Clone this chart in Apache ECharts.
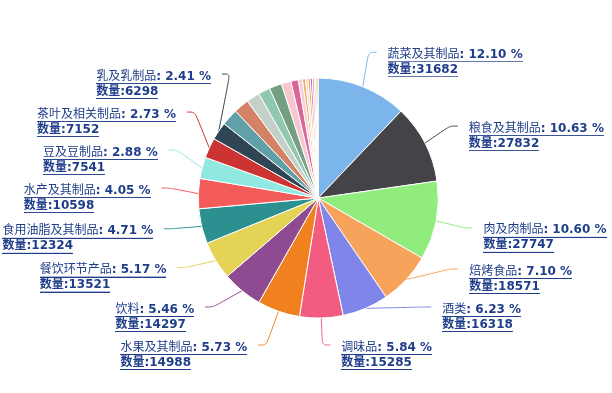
<!DOCTYPE html>
<html>
<head>
<meta charset="utf-8">
<script src="https://cdn.jsdelivr.net/npm/echarts@6/dist/echarts.min.js"></script>
<style>html,body{margin:0;padding:0;background:#fff}#c{width:612px;height:393px}</style>
</head>
<body>
<div id="c"></div>
<script>
const categories = ['蔬菜及其制品','粮食及其制品','肉及肉制品','焙烤食品','酒类','调味品','水果及其制品','饮料','餐饮环节产品','食用油脂及其制品','水产及其制品','豆及豆制品','茶叶及相关制品','乳及乳制品',
  '其他1','其他2','其他3','其他4','其他5','其他6','其他7','其他8','其他9','其他10','其他11','其他12','其他13','其他14','其他15','其他16'];
const counts = [31682,27832,27747,18571,16318,15285,14988,14297,13521,12324,10598,7541,7152,6298,
  5900,5400,4700,4200,4400,3400,2600,1500,1000,900,800,750,650,500,500,386];
const labeledCount = 14;
const colors = ['#7cb5ec','#434348','#90ed7d','#f7a35c','#8085e9','#f15c80','#f1801f','#8e4b92','#e4d354','#2b908f','#f45b5b','#91e8e1','#cc3333','#2f4554',
  '#61a0a8','#d48265','#c6d0cb','#91c7ae','#749f83','#f7c6cf','#d9679a','#f5d0d8','#f5a35c','#f3dcc8','#f0a040','#b36ad6','#e889b0','#f09a3c','#d8b080','#a0703a'];

const total = counts.reduce((a,b)=>a+b,0);
const textColor = '#1f3d8a';
function underline(){
  const c = document.createElement('canvas');
  c.width = 2; c.height = 15;
  const g = c.getContext('2d');
  g.fillStyle = textColor;
  g.fillRect(0, 14, 2, 1);
  return c;
}
const ul = underline();
const font = "'DejaVu Sans','Noto Sans CJK SC',sans-serif";

const data = categories.map((n,i)=>({
  name: n, value: counts[i],
  itemStyle: {color: colors[i]},
  label: {show: i < labeledCount},
  labelLine: {show: i < labeledCount}
}));

// label layout parameters (classic spreading of outer pie labels)
const R = 120, L1 = 37, L2 = 8, RN = R + L1, TH = 146.2, LBL_H = 38, BOTTOM = 383, GAP = 11, TEXT_DY = 10;

const chart = echarts.init(document.getElementById('c'));
const rec = {};
chart.setOption({
  animation: false,
  series: [{
    type: 'pie',
    center: ['52%','50.4%'],
    radius: R,
    startAngle: 90,
    clockwise: true,
    avoidLabelOverlap: false,
    itemStyle: {borderColor: '#fff', borderWidth: 1},
    label: {
      color: textColor,
      fontFamily: font,
      fontSize: 12,
      lineHeight: 15,
      overflow: 'none',
      formatter: p => '{n|' + p.name + '}{b|: ' + (p.value/total*100).toFixed(2) + ' %}\n{b|数量:' + p.value + '}',
      rich: {
        n: {fontFamily: font, fontSize: 12, fontWeight: 'normal', color: textColor, height: 15, lineHeight: 15, align: 'left', backgroundColor: {image: ul}},
        b: {fontFamily: font, fontSize: 12, fontWeight: 'bold', color: textColor, height: 15, lineHeight: 15, align: 'left', backgroundColor: {image: ul}}
      }
    },
    labelLine: {length: L1, length2: L2, smooth: true, lineStyle: {width: 1}},
    labelLayout: p => { if (p.labelLinePoints) rec[p.dataIndex] = p.labelLinePoints.map(q => q.slice()); return {}; },
    data: data
  }]
});

const cx = chart.getWidth() * 0.52, cy = chart.getHeight() * 0.504;
const left = [], right = [];
Object.keys(rec).forEach(k => {
  const i = +k, p0 = rec[i][0];
  const a = Math.atan2(p0[1] - cy, p0[0] - cx);
  const dir = p0[0] >= cx ? 1 : -1;
  const o = {i, p0, dir, y: cy + Math.sin(a) * RN, nx: cx + Math.cos(a) * RN + dir * L2};
  (dir > 0 ? right : left).push(o);
});
function changeX(list, isDown, dir) {
  let last = isDown ? Infinity : 0;
  list.forEach(o => {
    const dy = Math.abs(o.y - cy);
    let dx = dy < TH ? Math.sqrt(RN * RN - dy * dy) : Math.abs(o.nx - cx);
    if (isDown && dx >= last) dx = last - 10;
    if (!isDown && dx <= last) dx = last + 10;
    o.x = cx + dx * dir;
    last = dx;
  });
}
function adjust(list, dir) {
  list.sort((a, b) => a.y - b.y);
  const n = list.length;
  function shiftUp(end, delta) {
    for (let j = end; j >= 0; j--) {
      list[j].y -= delta;
      if (j > 0 && list[j].y > list[j - 1].y + LBL_H) break;
    }
  }
  function shiftDown(start, end, delta) {
    for (let j = start; j < end; j++) {
      list[j].y += delta;
      if (j > start && j + 1 < end && list[j + 1].y > list[j].y + LBL_H) { shiftUp(j, delta / 2); return; }
    }
    shiftUp(end - 1, delta / 2);
  }
  let lastY = 0;
  for (let i = 0; i < n; i++) {
    const d = list[i].y - lastY;
    if (d < 0) shiftDown(i, n, -d);
    lastY = list[i].y + LBL_H;
  }
  if (BOTTOM - lastY < 0) shiftUp(n - 1, lastY - BOTTOM);
  changeX(list.filter(o => o.y < cy), false, dir);
  changeX(list.filter(o => o.y >= cy), true, dir);
}
adjust(left, -1);
adjust(right, 1);
const final = {};
left.concat(right).forEach(o => {
  final[o.i] = {
    x: o.x + o.dir * GAP,
    y: o.y + TEXT_DY,
    labelLinePoints: [o.p0, [o.x - o.dir * L2, o.y], [o.x, o.y]]
  };
});
chart.setOption({series: [{labelLayout: p => final[p.dataIndex] || {}}]});
</script>
</body>
</html>
